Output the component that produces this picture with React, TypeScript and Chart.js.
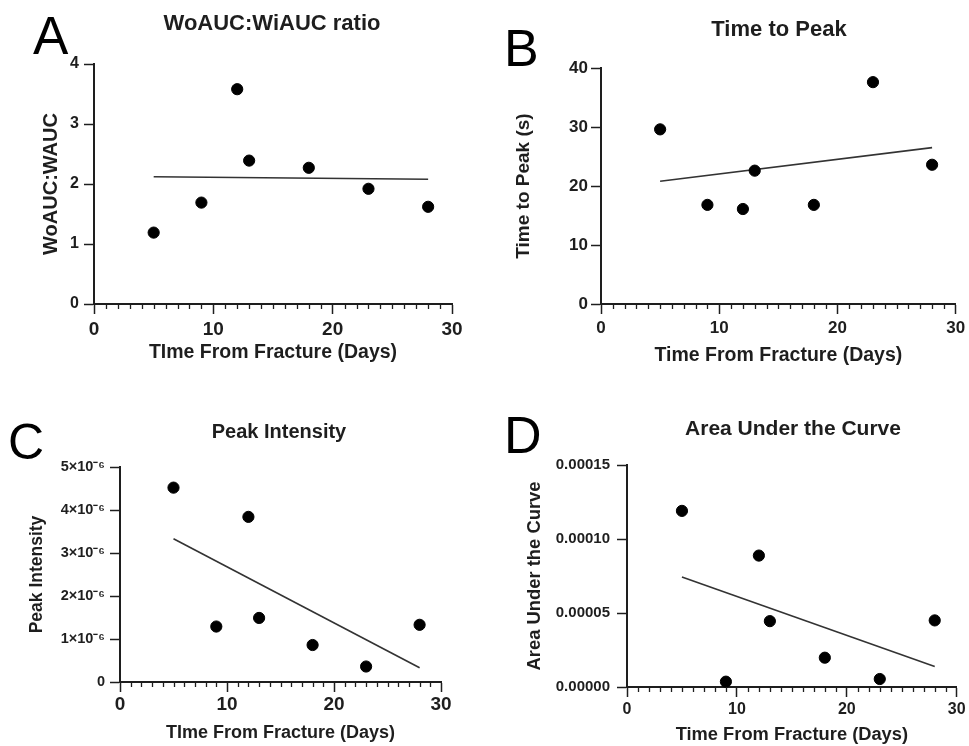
import React, { useEffect, useRef } from "react";
import { Chart, registerables } from "chart.js";
Chart.register(...registerables);

// ---------- data ----------
const days = [5, 9, 12, 13, 18, 23, 28];
const fitDays = [5, 28];
const xTickValues = [0, 10, 20, 30];

const ratioValues = [1.19, 1.69, 3.58, 2.39, 2.27, 1.92, 1.62];
const ratioFit = [2.12, 2.08];
const ratioTicks = [0, 1, 2, 3, 4];

const ttpValues = [29.6, 16.8, 16.1, 22.6, 16.8, 37.6, 23.6];
const ttpFit = [20.8, 26.5];
const ttpTicks = [0, 10, 20, 30, 40];

const peakValues = [4.52e-6, 1.29e-6, 3.84e-6, 1.49e-6, 0.86e-6, 0.36e-6, 1.33e-6];
const peakFit = [3.33e-6, 0.33e-6];
const peakTicks = [0, 1e-6, 2e-6, 3e-6, 4e-6, 5e-6];

const aucValues = [0.000119, 0.0000036, 0.0000888, 0.0000445, 0.0000198, 0.0000054, 0.000045];
const aucFit = [0.0000744, 0.0000139];
const aucTicks = [0, 0.00005, 0.0001, 0.00015];

const FONT = "'Liberation Sans', Arial, Helvetica, sans-serif";
const INK = "#1e1e1e";

const fmtInt = (v: number) => String(Math.round(v));
const fmtSci6 = (v: number) => {
  const m = Math.round(v * 1e6);
  return m === 0 ? "0" : `${m}×10⁻⁶`;
};
const fmtFixed5 = (v: number) => v.toFixed(5);

type Panel = {
  letter: string;
  title: string;
  yTitle: string;
  xTitle: string;
  values: number[];
  fit: number[];
  yTicks: number[];
  fmt: (v: number) => string;
  box: { x: number; y: number; w: number; h: number };
  area: { l: number; t: number; r: number; b: number };
  titleSize: number; titleCx: number; titleCy: number;
  letterSize: number; letterX: number; letterCapTop: number;
  yTitleSize: number; yTitleCx: number;
  yTickSize: number; yTickRight: number;
  xTickSize: number; xTickCy: number;
  xTitleSize: number; xTitleCy: number;
};

const panels: Panel[] = [
  {
    letter: "A", title: "WoAUC:WiAUC ratio", yTitle: "WoAUC:WAUC", xTitle: "TIme From Fracture (Days)",
    values: ratioValues, fit: ratioFit, yTicks: ratioTicks, fmt: fmtInt,
    box: { x: 0, y: 0, w: 484, h: 370 }, area: { l: 94, t: 64, r: 452, b: 304 },
    titleSize: 22, titleCx: 272, titleCy: 23,
    letterSize: 53, letterX: 33, letterCapTop: 16,
    yTitleSize: 20, yTitleCx: 51, yTickSize: 16, yTickRight: 79,
    xTickSize: 19, xTickCy: 330, xTitleSize: 19.5, xTitleCy: 353,
  },
  {
    letter: "B", title: "Time to Peak", yTitle: "Time to Peak (s)", xTitle: "Time From Fracture (Days)",
    values: ttpValues, fit: ttpFit, yTicks: ttpTicks, fmt: fmtInt,
    box: { x: 484, y: 0, w: 485, h: 370 }, area: { l: 601, t: 68, r: 957, b: 304 },
    titleSize: 22, titleCx: 779, titleCy: 29,
    letterSize: 52, letterX: 504, letterCapTop: 29,
    yTitleSize: 19, yTitleCx: 524, yTickSize: 17, yTickRight: 588,
    xTickSize: 17, xTickCy: 328, xTitleSize: 19.5, xTitleCy: 356,
  },
  {
    letter: "C", title: "Peak Intensity", yTitle: "Peak Intensity", xTitle: "TIme From Fracture (Days)",
    values: peakValues, fit: peakFit, yTicks: peakTicks, fmt: fmtSci6,
    box: { x: 0, y: 370, w: 484, h: 376 }, area: { l: 120, t: 467, r: 441, b: 682 },
    titleSize: 20, titleCx: 279, titleCy: 431,
    letterSize: 50, letterX: 8, letterCapTop: 424,
    yTitleSize: 17.5, yTitleCx: 37, yTickSize: 14.5, yTickRight: 105,
    xTickSize: 19, xTickCy: 705, xTitleSize: 18, xTitleCy: 733,
  },
  {
    letter: "D", title: "Area Under the Curve", yTitle: "Area Under the Curve", xTitle: "Time From Fracture (Days)",
    values: aucValues, fit: aucFit, yTicks: aucTicks, fmt: fmtFixed5,
    box: { x: 484, y: 370, w: 485, h: 376 }, area: { l: 627, t: 465, r: 960, b: 687 },
    titleSize: 21, titleCx: 793, titleCy: 428,
    letterSize: 52, letterX: 504, letterCapTop: 416,
    yTitleSize: 18.4, yTitleCx: 535, yTickSize: 15, yTickRight: 610,
    xTickSize: 16, xTickCy: 710, xTitleSize: 18.3, xTitleCy: 736,
  },
];

const TICK_LEN = 10;
const MINOR_LEN = 5;

const minorTicks = {
  id: "minorTicks",
  afterDraw(chart: any) {
    const xs = chart.scales.x;
    const { bottom } = chart.chartArea;
    const ctx = chart.ctx;
    ctx.save();
    ctx.strokeStyle = INK;
    ctx.lineWidth = 1.3;
    for (let v = xs.min; v <= xs.max; v += 1) {
      if (v % 10 === 0) continue;
      const px = Math.round(xs.getPixelForValue(v)) + 0.5;
      ctx.beginPath();
      ctx.moveTo(px, bottom);
      ctx.lineTo(px, bottom + MINOR_LEN);
      ctx.stroke();
    }
    ctx.restore();
  },
};

function PanelChart({ p }: { p: Panel }) {
  const ref = useRef<HTMLCanvasElement | null>(null);
  useEffect(() => {
    if (!ref.current) return;
    const { box, area } = p;
    const yWidth = area.l - box.x;
    const xHeight = box.h - (area.b - box.y);
    const padTop = area.t - box.y;
    const padRight = box.x + box.w - area.r;
    const yTitlePad = p.yTitleCx - box.x - (p.yTitleSize * 1.2) / 2;
    const yTickPad = area.l - TICK_LEN - p.yTickRight;
    const xTickPad = p.xTickCy - area.b - TICK_LEN - (p.xTickSize * 1.2) / 2;
    const xTitlePad = Math.max(0, box.y + box.h - p.xTitleCy - (p.xTitleSize * 1.2) / 2);
    const ymax = p.yTicks[p.yTicks.length - 1];

    const chart = new Chart(ref.current, {
      type: "scatter",
      data: {
        datasets: [
          {
            label: "data",
            data: days.map((d, i) => ({ x: d, y: p.values[i] })),
            backgroundColor: "#000",
            borderColor: "#000",
            pointRadius: 5.6,
            pointHoverRadius: 5.6,
            clip: false as any,
          },
          {
            label: "fit",
            data: fitDays.map((d, i) => ({ x: d, y: p.fit[i] })),
            showLine: true,
            borderColor: "#333",
            borderWidth: 1.6,
            pointRadius: 0,
            fill: false,
          } as any,
        ],
      },
      options: {
        animation: false,
        responsive: false,
        devicePixelRatio: 1,
        events: [],
        layout: { padding: { top: padTop, right: padRight, left: 0, bottom: 0 } },
        plugins: { legend: { display: false }, title: { display: false }, tooltip: { enabled: false } },
        scales: {
          x: {
            type: "linear",
            min: 0,
            max: 30,
            afterFit: (s: any) => { s.height = xHeight; },
            afterBuildTicks: (s: any) => { s.ticks = xTickValues.map((v) => ({ value: v })); },
            grid: { display: true, drawOnChartArea: false, drawTicks: true, tickLength: TICK_LEN, tickColor: INK, tickWidth: 1.5 },
            border: { display: true, color: INK, width: 2 },
            ticks: {
              padding: xTickPad,
              color: INK,
              maxRotation: 0,
              font: { family: FONT, size: p.xTickSize, weight: "bold" },
              callback: (v: any) => fmtInt(Number(v)),
            },
            title: {
              display: true,
              text: p.xTitle,
              color: INK,
              font: { family: FONT, size: p.xTitleSize, weight: "bold", lineHeight: 1.2 },
              padding: { top: 0, bottom: xTitlePad },
            },
          },
          y: {
            type: "linear",
            min: 0,
            max: ymax,
            afterFit: (s: any) => { s.width = yWidth; },
            afterBuildTicks: (s: any) => { s.ticks = p.yTicks.map((v) => ({ value: v })); },
            grid: { display: true, drawOnChartArea: false, drawTicks: true, tickLength: TICK_LEN, tickColor: INK, tickWidth: 1.5 },
            border: { display: true, color: INK, width: 2 },
            ticks: {
              padding: yTickPad,
              color: INK,
              font: { family: FONT, size: p.yTickSize, weight: "bold" },
              callback: (v: any) => p.fmt(Number(v)),
            },
            title: {
              display: true,
              text: p.yTitle,
              color: INK,
              font: { family: FONT, size: p.yTitleSize, weight: "bold", lineHeight: 1.2 },
              padding: { top: yTitlePad, bottom: 0 },
            },
          },
        },
      },
      plugins: [minorTicks],
    });
    return () => chart.destroy();
  }, [p]);

  return (
    <canvas
      ref={ref}
      width={p.box.w}
      height={p.box.h}
      style={{ position: "absolute", left: p.box.x, top: p.box.y, width: p.box.w, height: p.box.h }}
    />
  );
}

export default function App() {
  return (
    <div style={{ position: "absolute", left: 0, top: 0, width: 969, height: 746, background: "#fff", overflow: "hidden" }}>
      {panels.map((p) => (
        <PanelChart key={p.letter} p={p} />
      ))}
      {panels.map((p) => (
        <div
          key={"t" + p.letter}
          style={{
            position: "absolute",
            left: p.titleCx - 250,
            width: 500,
            top: p.titleCy - p.titleSize * 0.6,
            height: p.titleSize * 1.2,
            lineHeight: p.titleSize * 1.2 + "px",
            textAlign: "center",
            fontFamily: FONT,
            fontWeight: "bold",
            fontSize: p.titleSize,
            color: INK,
            whiteSpace: "nowrap",
          }}
        >
          {p.title}
        </div>
      ))}
      {panels.map((p) => (
        <div
          key={"l" + p.letter}
          style={{
            position: "absolute",
            left: p.letterX,
            top: p.letterCapTop - p.letterSize * 0.1305,
            lineHeight: p.letterSize + "px",
            fontFamily: FONT,
            fontSize: p.letterSize,
            color: "#000",
            whiteSpace: "nowrap",
          }}
        >
          {p.letter}
        </div>
      ))}
    </div>
  );
}
